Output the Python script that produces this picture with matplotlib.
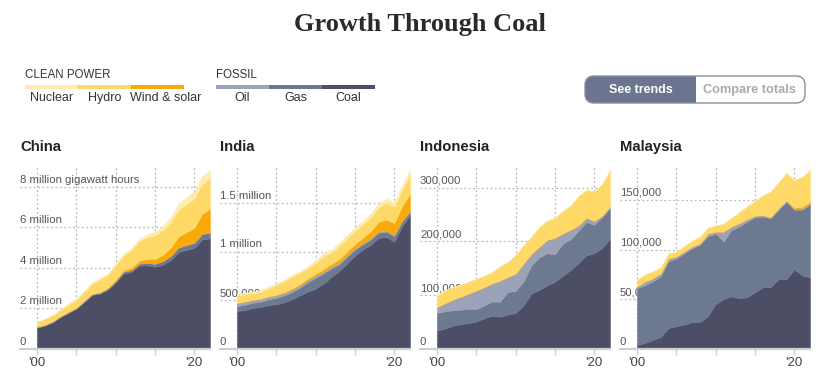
import numpy as np
import matplotlib
matplotlib.use("Agg")
import matplotlib.pyplot as plt
from matplotlib.patches import Rectangle, FancyBboxPatch
from matplotlib.transforms import IdentityTransform, blended_transform_factory

plt.rcParams['font.family'] = ['Liberation Sans', 'DejaVu Sans']

W, H = 837, 382

years = np.arange(2000, 2023)

# generation, thousand gigawatt hours
china_coal = [1050, 1150, 1320, 1580, 1780, 1980, 2320, 2660, 2730, 2920, 3270, 3720,
              3790, 4110, 4120, 4050, 4150, 4380, 4780, 4880, 4980, 5400, 5450]
china_gas = [10, 10, 10, 10, 15, 25, 30, 40, 35, 55, 80, 90, 95, 100, 120, 150, 175,
             205, 220, 240, 250, 275, 275]
china_oil = [45, 45, 40, 40, 45, 35, 30, 20, 15, 15, 13, 8, 6, 5, 5, 5, 5, 5, 5, 5, 5, 5, 5]
china_wind_solar = [1, 1, 2, 2, 2, 2, 4, 6, 15, 28, 45, 77, 107, 150, 184, 231, 307,
                    413, 543, 630, 727, 983, 1190]
china_hydro = [225, 280, 290, 290, 360, 400, 440, 490, 640, 620, 730, 710, 890, 950,
               1100, 1160, 1210, 1240, 1320, 1380, 1450, 1460, 1490]
china_nuclear = [17, 18, 25, 43, 50, 53, 55, 62, 68, 70, 74, 87, 98, 112, 133, 171,
                 213, 248, 295, 348, 366, 408, 418]

india_coal = [390, 400, 420, 430, 450, 460, 480, 510, 550, 590, 620, 670, 740, 800, 880,
              960, 1020, 1070, 1140, 1150, 1100, 1260, 1370]
india_gas = [50, 55, 55, 55, 60, 65, 70, 75, 80, 95, 110, 105, 85, 70, 65, 60, 55, 55,
             55, 55, 60, 50, 40]
india_oil = [30, 30, 28, 28, 27, 26, 25, 25, 24, 23, 22, 22, 20, 18, 16, 14, 12, 10, 10,
             8, 8, 8, 8]
india_wind_solar = [2, 2, 2, 3, 4, 6, 10, 13, 15, 18, 20, 25, 30, 35, 40, 45, 55, 75,
                    100, 115, 125, 150, 175]
india_hydro = [77, 75, 68, 70, 85, 100, 112, 122, 115, 105, 115, 130, 115, 135, 135, 135,
               135, 145, 150, 175, 170, 170, 200]
india_nuclear = [17, 19, 19, 18, 17, 17, 17, 17, 15, 17, 26, 32, 33, 34, 36, 38, 38, 38,
                 39, 45, 43, 47, 46]

indonesia_coal = [34, 38, 43, 46, 48, 51, 57, 62, 60, 64, 67, 81, 103, 110, 118, 125,
                  136, 147, 160, 174, 178, 188, 205]
indonesia_gas = [33, 32, 29, 27, 27, 23, 24, 26, 28, 42, 41, 44, 53, 60, 60, 51, 60, 57,
                 60, 62, 53, 57, 57]
indonesia_oil = [11, 15, 20, 24, 28, 35, 34, 34, 39, 28, 32, 34, 21, 20, 25, 31, 19, 18,
                 10, 8, 7, 3, 3]
indonesia_wind_solar = [0] * 23
indonesia_hydro = [22, 24, 23, 23, 22, 22, 21, 21, 27, 28, 35, 34, 32, 37, 36, 37, 42,
                   45, 55, 52, 55, 59, 68]
indonesia_nuclear = [0] * 23

malaysia_coal = [4, 6, 9, 12, 21, 23, 24.5, 27, 27, 33, 45, 50, 53, 51, 52, 57, 62, 62,
                 70, 70, 80, 74, 72]
malaysia_gas = [57, 58, 59, 61, 67, 68, 71.5, 74, 78, 80, 71, 58, 66.5, 72, 76, 75.5, 71,
                69.5, 70, 78, 60, 66, 73]
malaysia_oil = [1.7, 3.8, 3, 3, 3, 2, 2, 2, 1, 3, 2, 10, 3.5, 3.5, 2.5, 1.5, 1.6, 1, 1.6,
                1, 1, 1.6, 1]
malaysia_wind_solar = [0] * 20 + [1, 1.5, 2]
malaysia_hydro = [7, 7, 7, 6, 5, 5, 5.5, 6, 7, 6, 6, 8, 9, 11, 13, 15, 20, 26, 26, 28, 28,
                  30, 32]
malaysia_nuclear = [0] * 23

countries = ['China', 'India', 'Indonesia', 'Malaysia']
series = {
    'China': [china_coal, china_gas, china_oil, china_wind_solar, china_hydro, china_nuclear],
    'India': [india_coal, india_gas, india_oil, india_wind_solar, india_hydro, india_nuclear],
    'Indonesia': [indonesia_coal, indonesia_gas, indonesia_oil, indonesia_wind_solar,
                  indonesia_hydro, indonesia_nuclear],
    'Malaysia': [malaysia_coal, malaysia_gas, malaysia_oil, malaysia_wind_solar,
                 malaysia_hydro, malaysia_nuclear],
}
y_ticks = {
    'China': [0, 2000, 4000, 6000, 8000],
    'India': [0, 500, 1000, 1500],
    'Indonesia': [0, 100, 200, 300],
    'Malaysia': [0, 50, 100, 150],
}
y_labels = {
    'China': ['0', '2 million', '4 million', '6 million', '8 million gigawatt hours'],
    'India': ['0', '500,000', '1 million', '1.5 million'],
    'Indonesia': ['0', '100,000', '200,000', '300,000'],
    'Malaysia': ['0', '50,000', '100,000', '150,000'],
}

# coal, gas, oil, wind & solar, hydro, nuclear
layer_colors = ['#4c4e65', '#6d7891', '#9ca2b7', '#f9aa0a', '#fed968', '#fdebb0']

clean_names = ['Nuclear', 'Hydro', 'Wind & solar']
clean_colors = ['#fdebb0', '#fed968', '#f9aa0a']
fossil_names = ['Oil', 'Gas', 'Coal']
fossil_colors = ['#9ca2b7', '#6d7891', '#4c4e65']


def fx(px):
    return px / W


def fy(py):
    return 1 - py / H


fig = plt.figure(figsize=(W / 100, H / 100), dpi=100)

fig.text(fx(420), fy(25), 'Growth Through Coal', ha='center', va='center',
         family=['Liberation Serif'], fontweight='bold', fontsize=19, color='#2a2a2a')

# legend
for x0, head, names, cols in [(25, 'CLEAN POWER', clean_names, clean_colors),
                              (216, 'FOSSIL', fossil_names, fossil_colors)]:
    fig.text(fx(x0), fy(75), head, ha='left', va='center', fontsize=8.3, color='#333333')
    seg = 53
    for k, (nm, c) in enumerate(zip(names, cols)):
        fig.add_artist(Rectangle((fx(x0 + k * seg), fy(89)), seg / W, 4 / H,
                                 transform=fig.transFigure, color=c, lw=0))
        cx = x0 + k * seg + seg / 2
        if nm == 'Wind & solar':
            cx = 166
        fig.text(fx(cx), fy(98), nm, ha='center', va='center', fontsize=9, color='#333333')

# toggle button (display pixels)
btn_col = '#6b758f'
ident = IdentityTransform()
fig.add_artist(FancyBboxPatch((585, H - 103), 220, 27, boxstyle='round,pad=0,rounding_size=9',
                              transform=ident, facecolor=btn_col, edgecolor='none'))
fig.add_artist(FancyBboxPatch((696, H - 103), 109, 27, boxstyle='round,pad=0,rounding_size=9',
                              transform=ident, facecolor='white', edgecolor='none'))
fig.add_artist(Rectangle((696, H - 103), 12, 27, transform=ident, facecolor='white',
                         edgecolor='none'))
fig.add_artist(FancyBboxPatch((585, H - 103), 220, 27, boxstyle='round,pad=0,rounding_size=9',
                              transform=ident, facecolor='none', edgecolor='#8a90a2', lw=1))
fig.text(fx(641), fy(90), 'See trends', ha='center', va='center', fontsize=9,
         fontweight='bold', color='white')
fig.text(fx(749), fy(90), 'Compare totals', ha='center', va='center', fontsize=9.2,
         fontweight='bold', color='#aaaaaa')

grid_kw = dict(color='#b8b8b8', lw=0.9, ls=(0, (1.5, 2)), zorder=1)

for i, name in enumerate(countries):
    left = 20 + 200 * i
    ax = fig.add_axes([fx(left), fy(349), 190 / W, (349 - 166) / H])
    layers = np.array(series[name], dtype=float)
    total = layers.sum(axis=0)

    polys = ax.stackplot(years, *layers, colors=layer_colors, zorder=3)
    for p in polys:
        p.set_edgecolor(p.get_facecolor())
        p.set_linewidth(0.3)

    ax.set_xlim(2000 - 17 / 7.86, 2022)
    ax.set_ylim(0, total.max() * 1.022)

    for yr in [2000, 2005, 2010, 2015, 2020]:
        ax.axvline(yr, **grid_kw)
    trans = blended_transform_factory(ax.transAxes, ax.transData)
    for v, lab in zip(y_ticks[name], y_labels[name]):
        if v > 0:
            ax.axhline(v, **grid_kw)
        ax.annotate(lab, xy=(0, v), xycoords=trans, xytext=(0, 3),
                    textcoords='offset points', ha='left', va='baseline',
                    fontsize=8.2, color='#555555', zorder=2)
    ax.axhline(0, color='#cfcfcf', lw=1.6, zorder=4, clip_on=False)

    ax.set_xticks([2000, 2005, 2010, 2015, 2020])
    ax.set_xticklabels(["'00", '', '', '', "'20"])
    ax.tick_params(axis='x', length=4.5, width=1, color='#cfcfcf', labelsize=9.5,
                   labelcolor='#444444', pad=1.5)
    ax.set_yticks([])
    for s in ax.spines.values():
        s.set_visible(False)

    fig.text(fx(left), fy(147), name, ha='left', va='center', fontsize=10.7,
             fontweight='bold', color='#222222')

fig.savefig('out.png', dpi=100)
